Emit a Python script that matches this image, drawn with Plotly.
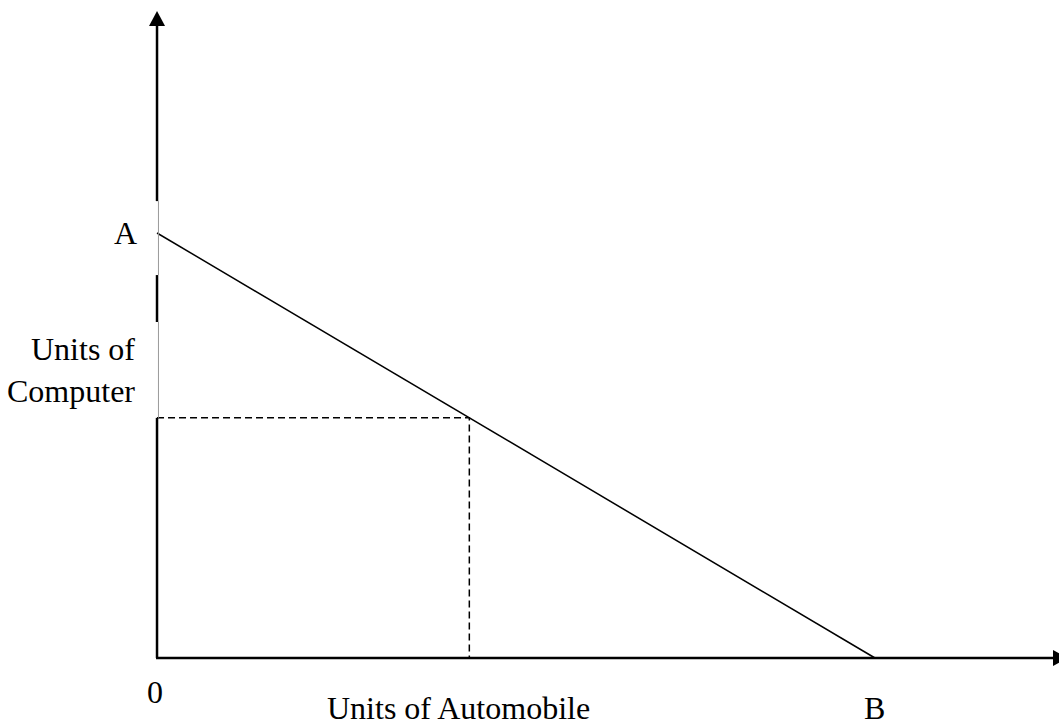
import plotly.graph_objects as go

# ---- data ----
A_value = 100.0          # max units of computer (x = 0)
B_value = 100.0          # max units of automobile (y = 0)
point_x = [43.5]         # chosen production point
point_y = [56.5]
ppf_x = [0.0, B_value]
ppf_y = [A_value, 0.0]
labels = ["A", "B", "0"]
# parts of the y-axis hidden behind labels (drawn thin gray)
gap_bounds = [(56.5, 79.06), (90.1, 107.5)]

W, H = 1059, 727
x_range = [-21.87, 125.63]
y_range = [-16.24, 154.82]
sx = W / (x_range[1] - x_range[0])   # px per unit
sy = H / (y_range[1] - y_range[0])

FONT = dict(family="Liberation Serif, Times New Roman, serif", size=32, color="black")

fig = go.Figure()

# production possibility frontier
fig.add_trace(go.Scatter(x=ppf_x, y=ppf_y, mode="lines",
                         line=dict(color="black", width=1.5), hoverinfo="skip"))
# dashed guides
fig.add_trace(go.Scatter(x=[0, point_x[0], point_x[0]], y=[point_y[0], point_y[0], 0],
                         mode="lines", line=dict(color="black", width=1.5, dash="7px,4px"),
                         hoverinfo="skip"))

shapes = []
ax_w = 2.5
y_top_base = (y_range[1] - 26 / sy)
y_tip = (y_range[1] - 11 / sy)
# y-axis: thick segments with thin gaps
segs = [0.0]
for a, b in gap_bounds:
    segs += [a, b]
segs.append(y_top_base)
for i in range(0, len(segs), 2):
    shapes.append(dict(type="line", xref="x", yref="y", x0=0, x1=0, y0=segs[i], y1=segs[i + 1],
                       line=dict(color="black", width=ax_w)))
for a, b in gap_bounds:
    shapes.append(dict(type="line", xref="x", yref="y", x0=0.2, x1=0.2, y0=a, y1=b,
                       line=dict(color="#999999", width=1)))
# y arrow head
hw = 8 / sx
shapes.append(dict(type="path", xref="x", yref="y",
                   path=f"M {-hw} {y_top_base} L {hw} {y_top_base} L 0 {y_tip} Z",
                   fillcolor="black", line=dict(color="black", width=0)))
# x-axis
x_base = x_range[1] - 6 / sx
x_tip = x_base + 15 / sx
shapes.append(dict(type="line", xref="x", yref="y", x0=0 - 1 / sx, x1=x_base, y0=0, y1=0,
                   line=dict(color="black", width=ax_w)))
hh = 8 / sy
shapes.append(dict(type="path", xref="x", yref="y",
                   path=f"M {x_base} {-hh} L {x_base} {hh} L {x_tip} 0 Z",
                   fillcolor="black", line=dict(color="black", width=0)))

annotations = [
    dict(x=-32 / sx, y=A_value, text=labels[0], showarrow=False, font=FONT,
         xanchor="center", yanchor="middle"),
    dict(x=-20 / sx, y=(658 - 370) / sy, text="Units of<br>Computer", showarrow=False,
         font=FONT, xanchor="right", yanchor="middle", align="right"),
    dict(x=-2 / sx, y=-34 / sy, text=labels[2], showarrow=False, font=FONT,
         xanchor="center", yanchor="middle"),
    dict(x=B_value, y=-50 / sy, text=labels[1], showarrow=False, font=FONT,
         xanchor="center", yanchor="middle"),
    dict(x=(458 - 157) / sx, y=-50 / sy, text="Units of Automobile", showarrow=False,
         font=FONT, xanchor="center", yanchor="middle"),
]

fig.update_layout(
    width=W, height=H,
    margin=dict(l=0, r=0, t=0, b=0),
    paper_bgcolor="white", plot_bgcolor="white",
    showlegend=False,
    xaxis=dict(range=x_range, visible=False, fixedrange=True),
    yaxis=dict(range=y_range, visible=False, fixedrange=True),
    shapes=shapes, annotations=annotations,
)

fig.write_html("out.html", config={"displayModeBar": False},
               post_script="document.body.style.margin='0';document.body.style.overflow='hidden';")
